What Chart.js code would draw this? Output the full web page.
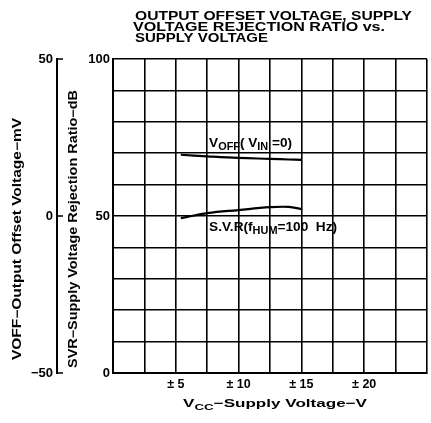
<!DOCTYPE html>
<html>
<head>
<meta charset="utf-8">
<script src="https://cdn.jsdelivr.net/npm/chart.js@4"></script>
<style>
  html, body { margin: 0; padding: 0; background: #fff; }
  #wrap { position: relative; width: 431px; height: 423px; }
</style>
</head>
<body>
<div id="wrap"><canvas id="chart" width="431" height="423"></canvas></div>
<script>
// supply voltage (V) where the curves were read
const supplyVoltage = [5.4, 7.5, 10, 12.5, 14, 15];
// output offset voltage, mV (left outer axis)
const offsetMv = [19.5, 19.0, 18.5, 18.2, 18.0, 17.9];
// supply voltage rejection ratio, dB (inner axis)
const svrDb = [49.3, 50.9, 51.9, 52.8, 52.9, 52.2];

// labelled ticks
const xTickLabels = [5, 10, 15, 20];
const svrTickLabels = [0, 50, 100];
const voffTickLabels = [-50, 0, 50];

const FONT = '"Liberation Sans", Arial, sans-serif';

// draw a run of text with subscripts, optionally stretched to a width
function drawRich(ctx, parts, x, y, width, size) {
  const mainFont = `bold ${size}px ${FONT}`;
  const subFont = `bold ${Math.round(size * 0.78)}px ${FONT}`;
  let total = 0;
  parts.forEach(p => {
    ctx.font = p.sub ? subFont : mainFont;
    p.w = ctx.measureText(p.t).width;
    total += p.w;
  });
  const sx = width ? width / total : 1;
  ctx.save();
  ctx.translate(x, y);
  ctx.scale(sx, 1);
  ctx.textAlign = 'left';
  ctx.textBaseline = 'alphabetic';
  ctx.fillStyle = '#000';
  let cx = 0;
  parts.forEach(p => {
    ctx.font = p.sub ? subFont : mainFont;
    ctx.fillText(p.t, cx, p.sub ? size * 0.22 : 0);
    cx += p.w;
  });
  ctx.restore();
}

const textPlugin = {
  id: 'textPlugin',
  afterDraw(chart) {
    const ctx = chart.ctx;
    const xs = chart.scales.x;
    const svr = chart.scales.svr;
    const voff = chart.scales.voff;

    // inward tick stubs on the offset voltage axis
    ctx.save();
    ctx.strokeStyle = '#000';
    ctx.lineWidth = 1.5;
    voffTickLabels.forEach(v => {
      const py = voff.getPixelForValue(v);
      ctx.beginPath();
      ctx.moveTo(voff.right, py);
      ctx.lineTo(voff.right + 6, py);
      ctx.stroke();
    });
    ctx.restore();

    // title
    drawRich(ctx, [{ t: 'OUTPUT OFFSET VOLTAGE, SUPPLY' }], 135, 19.5, 277, 12.5);
    drawRich(ctx, [{ t: 'VOLTAGE REJECTION RATIO ' }, { t: 'vs.' }], 133, 30.5, 252, 12.5);
    drawRich(ctx, [{ t: 'SUPPLY VOLTAGE' }], 135, 41.5, 133, 12.5);

    // x axis title
    drawRich(ctx, [{ t: 'V' }, { t: 'CC', sub: true }, { t: '\u2212Supply Voltage\u2212V' }], 183, 407, 184, 11.5);

    // rotated y titles
    ctx.save();
    ctx.translate(21, 239);
    ctx.rotate(-Math.PI / 2);
    drawRich(ctx, [{ t: 'VOFF\u2212Output Offset Voltage\u2212mV' }], -121, 0, 242, 12);
    ctx.restore();

    ctx.save();
    ctx.translate(77, 229);
    ctx.rotate(-Math.PI / 2);
    drawRich(ctx, [{ t: 'SVR\u2212Supply Voltage Rejection Ratio\u2212dB' }], -139, 0, 278, 12);
    ctx.restore();

    // curve labels
    drawRich(ctx, [{ t: 'V' }, { t: 'OFF', sub: true }, { t: '( V' }, { t: 'IN', sub: true }, { t: ' =0)' }],
      xs.getPixelForValue(7.65), svr.getPixelForValue(72), 83, 12.5);
    drawRich(ctx, [{ t: 'S.V.R(f' }, { t: 'HUM', sub: true }, { t: '=100  Hz)' }],
      xs.getPixelForValue(7.65), svr.getPixelForValue(45.2), 128, 12.5);
  }
};

const offsetPoints = supplyVoltage.map((v, i) => ({ x: v, y: offsetMv[i] }));
const svrPoints = supplyVoltage.map((v, i) => ({ x: v, y: svrDb[i] }));

new Chart(document.getElementById('chart'), {
  type: 'line',
  data: {
    datasets: [
      {
        label: 'VOFF (VIN = 0)',
        data: offsetPoints,
        yAxisID: 'voff',
        borderColor: '#000',
        borderWidth: 2.2,
        pointRadius: 0,
        tension: 0.4,
        fill: false
      },
      {
        label: 'S.V.R (fHUM = 100 Hz)',
        data: svrPoints,
        yAxisID: 'svr',
        borderColor: '#000',
        borderWidth: 2.2,
        pointRadius: 0,
        tension: 0.4,
        fill: false
      }
    ]
  },
  options: {
    responsive: false,
    animation: false,
    devicePixelRatio: 1,
    layout: { padding: { top: 59, right: 1, left: 0, bottom: 0 } },
    plugins: {
      legend: { display: false },
      title: { display: false },
      tooltip: { enabled: false }
    },
    scales: {
      x: {
        type: 'linear',
        min: 0,
        max: 25,
        afterFit: s => { s.height = 50; },
        afterBuildTicks: s => {
          const t = [];
          for (let v = 0; v <= 25; v += 2.5) t.push({ value: v });
          s.ticks = t;
        },
        grid: { color: '#000', lineWidth: 1.6, drawTicks: false },
        border: { display: true, color: '#000', width: 2 },
        ticks: {
          autoSkip: false,
          maxRotation: 0,
          padding: 4,
          color: '#000',
          font: { family: FONT, size: 12.5, weight: 'bold' },
          callback: v => (xTickLabels.includes(v) ? '\u00b1 ' + v : '')
        }
      },
      svr: {
        type: 'linear',
        position: 'left',
        weight: 0,
        min: 0,
        max: 100,
        afterFit: s => { s.width = 56; },
        afterBuildTicks: s => {
          const t = [];
          for (let v = 0; v <= 100; v += 10) t.push({ value: v });
          s.ticks = t;
        },
        grid: { color: '#000', lineWidth: 1.6, drawTicks: false },
        border: { display: true, color: '#000', width: 2 },
        ticks: {
          autoSkip: false,
          padding: 3,
          color: '#000',
          font: { family: FONT, size: 13, weight: 'bold' },
          callback: v => (svrTickLabels.includes(v) ? String(v) : '')
        }
      },
      voff: {
        type: 'linear',
        position: 'left',
        weight: 10,
        min: -50,
        max: 50,
        afterFit: s => { s.width = 57; },
        afterBuildTicks: s => {
          s.ticks = voffTickLabels.map(v => ({ value: v }));
        },
        grid: { display: false, drawOnChartArea: false, drawTicks: false },
        border: { display: true, color: '#000', width: 2 },
        ticks: {
          padding: 4,
          color: '#000',
          font: { family: FONT, size: 13, weight: 'bold' },
          callback: v => (v < 0 ? '\u2212' + Math.abs(v) : String(v))
        }
      }
    }
  },
  plugins: [textPlugin]
});
</script>
</body>
</html>
